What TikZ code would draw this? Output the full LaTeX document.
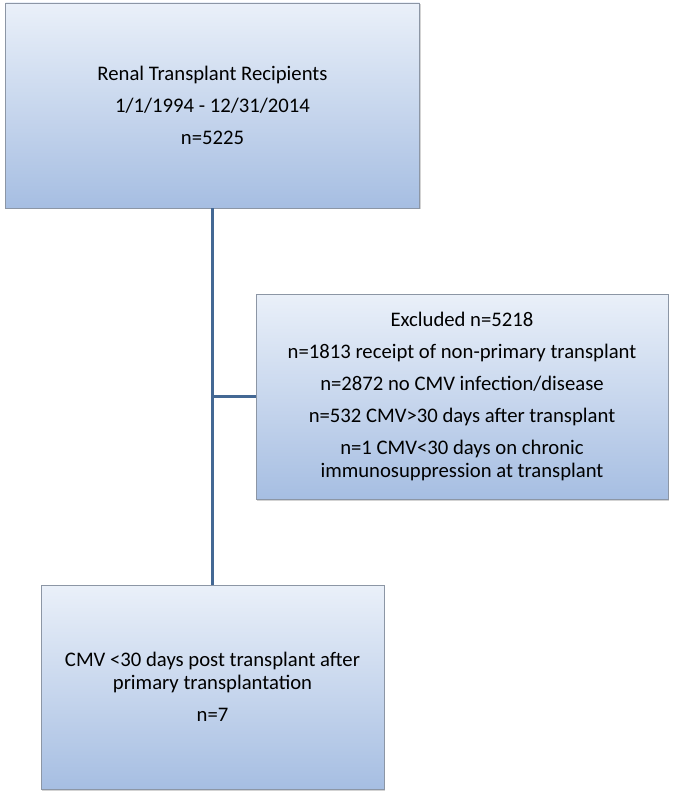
\documentclass[tikz,border=0pt]{standalone}
\usepackage{fontspec}
\setmainfont{Carlito}
\usepackage{tikz}
\usetikzlibrary{positioning,calc,shadows}
\definecolor{boxtop}{RGB}{234,240,249}
\definecolor{boxbot}{RGB}{166,190,226}
\definecolor{boxedge}{RGB}{140,150,165}
\definecolor{linkblue}{RGB}{68,104,148}

\begin{document}
\begin{tikzpicture}[x=1pt, y=-1pt,
  flowbox/.style={draw=boxedge, line width=0.8pt, top color=boxtop, bottom color=boxbot,
    drop shadow={shadow xshift=1.2pt, shadow yshift=-1.5pt, opacity=0.35},
    align=center, inner sep=0pt, font={\fontsize{20.7}{23.5}\selectfont}},
  link/.style={draw=linkblue, line width=3pt}]
\useasboundingbox (0,0) rectangle (676,799);
\node[flowbox, minimum width=414pt, minimum height=205pt] (recip) at (212.5,105.5)
  {Renal Transplant Recipients\\[8.5pt] 1/1/1994 - 12/31/2014\\[8.5pt] n=5225};
\node[flowbox, minimum width=412pt, minimum height=205pt] (excl) at (462,396.5)
  {Excluded n=5218\\[8.5pt] n=1813 receipt of non-primary transplant\\[8.5pt]
   n=2872 no CMV infection/disease\\[8.5pt] n=532 CMV>30 days after transplant\\[8.5pt]
   n=1 CMV<30 days on chronic\\ immunosuppression at transplant};
\node[flowbox, minimum width=343pt, minimum height=204pt] (incl) at (212.5,687)
  {CMV <30 days post transplant after\\ primary transplantation\\[8.5pt] n=7};
\coordinate (branch) at (recip.south |- excl.west);
\draw[link] (recip.south) -- (recip.south |- incl.north);
\draw[link] (branch) -- (excl.west);
\end{tikzpicture}
\end{document}
